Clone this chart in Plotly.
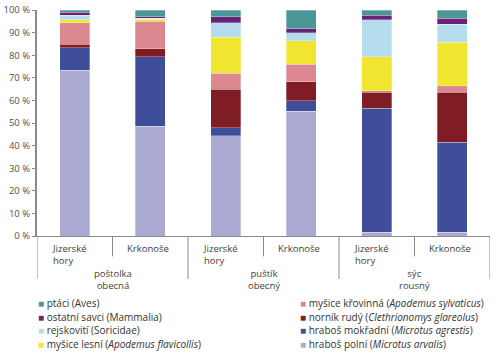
import plotly.graph_objects as go

sites = ["Jizerské<br>hory", "Krkonoše", "Jizerské<br>hory", "Krkonoše", "Jizerské<br>hory", "Krkonoše"]
owls = ["poštolka<br>obecná", "puštík<br>obecný", "sýc<br>rousný"]

# stacking order: bottom -> top
series_names = [
    "hraboš polní (<i>Microtus arvalis</i>)",
    "hraboš mokřadní (<i>Microtus agrestis</i>)",
    "norník rudý (<i>Clethrionomys glareolus</i>)",
    "myšice křovinná (<i>Apodemus sylvaticus</i>)",
    "myšice lesní (<i>Apodemus flavicollis</i>)",
    "rejskovití (Soricidae)",
    "ostatní savci (Mammalia)",
    "ptáci (Aves)",
]
arvalis = [73.4, 48.6, 44.3, 55.3, 1.7, 1.7]
agrestis = [9.9, 30.8, 3.7, 4.5, 54.8, 39.7]
glareolus = [1.5, 3.4, 17.0, 8.4, 7.1, 22.2]
sylvaticus = [9.6, 12.3, 7.0, 7.8, 0.6, 2.8]
flavicollis = [1.3, 0.9, 15.9, 10.5, 15.2, 19.4]
soricidae = [2.0, 0.4, 6.5, 3.5, 16.3, 7.9]
mammalia = [1.3, 0.6, 2.6, 1.7, 2.0, 2.6]
aves = [1.0, 3.0, 3.0, 8.3, 2.3, 3.7]
series_values = [arvalis, agrestis, glareolus, sylvaticus, flavicollis, soricidae, mammalia, aves]
colors = ["#a9a9d1", "#3f4e98", "#7f1c24", "#db8890", "#f0e52f", "#b5dced", "#6c2178", "#4b9797"]

y_ticks = list(range(0, 101, 10))
y_ticktext = [f"{v} %" for v in y_ticks]

FONT = "Open Sans"
xs = list(range(len(sites)))

fig = go.Figure()
for name, vals, col in zip(series_names, series_values, colors):
    fig.add_trace(go.Bar(x=xs, y=vals, name=name,
                         marker=dict(color=col, line=dict(width=0.6, color="rgba(255,255,255,0.5)")),
                         width=0.4, showlegend=False))

fig.update_layout(
    width=493, height=354,
    margin=dict(l=33, r=3, t=4, b=118),
    barmode="stack",
    plot_bgcolor="white", paper_bgcolor="white",
    font=dict(family=FONT, size=10, color="#404040"),
    xaxis=dict(range=[-0.5, 5.5], showticklabels=False, showgrid=False, zeroline=False,
               showline=True, linecolor="#8a8a8a", linewidth=1, ticks=""),
    yaxis=dict(range=[0, 100], tickvals=y_ticks, ticktext=y_ticktext, showgrid=False, zeroline=False,
               showline=True, linecolor="#8a8a8a", linewidth=2, ticks="outside", ticklen=3,
               tickcolor="#8a8a8a", tickfont=dict(size=9.5, color="#505050"),
               ticklabeloverflow="allow"),
    showlegend=False,
)

# category dividers
for i in range(len(sites) + 1):
    xb = i - 0.5
    long = (i % 2 == 0)
    fig.add_shape(type="line", xref="x", yref="paper", x0=xb, x1=xb, y0=0,
                  y1=-0.19 if long else -0.09, line=dict(color="#8a8a8a", width=1))

for i, s in enumerate(sites):
    fig.add_annotation(x=i - 0.33, y=0, xref="x", yref="paper", text=s, showarrow=False,
                       xanchor="left", yanchor="top", align="left", yshift=-4,
                       font=dict(size=9.5, color="#404040"))
for g, o in enumerate(owls):
    fig.add_annotation(x=2 * g + 0.5, y=-0.13, xref="x", yref="paper", text=o, showarrow=False,
                       xanchor="center", yanchor="top", align="center",
                       font=dict(size=9.5, color="#404040"))

# legend: two columns of four entries, top-down order of the stack
legend_names = series_names[::-1]
legend_colors = colors[::-1]
col_x = [0.0, 0.578]
row_y0, row_step = -0.297, -0.0603
for k, (name, col) in enumerate(zip(legend_names, legend_colors)):
    c, r = divmod(k, 4)
    fig.add_annotation(
        x=col_x[c], y=row_y0 + r * row_step, xref="paper", yref="paper",
        text=f"<span style='color:{col};font-size:10px'>■</span> {name}",
        showarrow=False, xanchor="left", yanchor="middle", align="left", borderpad=0,
        font=dict(size=10, color="#333333"))

fig.write_html("out.html")
